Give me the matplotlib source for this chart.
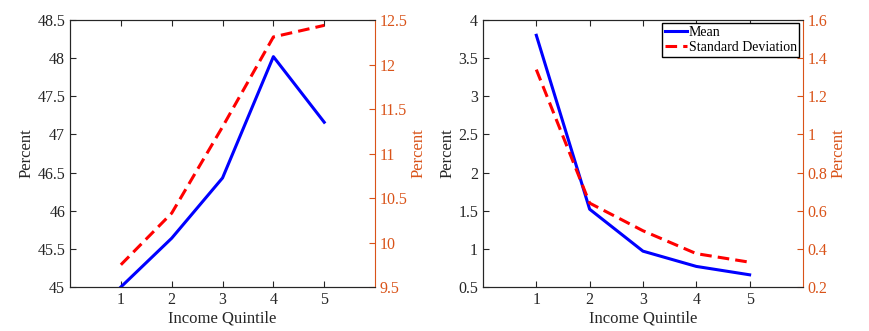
import matplotlib.pyplot as plt

plt.rcParams["font.family"] = ["Liberation Serif", "DejaVu Serif"]
plt.rcParams["font.size"] = 11

ORANGE = "#D95319"
TEXT = "#262626"

quintiles = [1, 2, 3, 4, 5]

# Left panel: mean (left axis) and standard deviation (right axis)
left_mean = [45.0, 45.64, 46.43, 48.02, 47.16]
left_sd = [9.75, 10.33, 11.30, 12.31, 12.44]

# Right panel
right_mean = [3.80, 1.52, 0.97, 0.77, 0.66]
right_sd = [1.34, 0.64, 0.495, 0.375, 0.33]

left_ticks = [45, 45.5, 46, 46.5, 47, 47.5, 48, 48.5]
left_sd_ticks = [9.5, 10, 10.5, 11, 11.5, 12, 12.5]
right_ticks = [0.5, 1, 1.5, 2, 2.5, 3, 3.5, 4]
right_sd_ticks = [0.2, 0.4, 0.6, 0.8, 1.0, 1.2, 1.4, 1.6]


def fmt(v):
    return ("%g" % v)


def draw_panel(fig, rect, mean, sd, yticks, sdticks, legend=False):
    ax = fig.add_axes(rect)
    ax2 = ax.twinx()

    l1, = ax.plot(quintiles, mean, color="#0000FF", lw=2.2, label="Mean")
    l2, = ax2.plot(quintiles, sd, color="#FF0000", lw=2.2, ls="--",
                   dashes=(3.8, 2.0), label="Standard Deviation")

    ax.set_xlim(0, 6)
    ax.set_xticks(quintiles)
    ax.set_ylim(yticks[0], yticks[-1])
    ax.set_yticks(yticks)
    ax.set_yticklabels([fmt(v) for v in yticks])
    ax2.set_ylim(sdticks[0], sdticks[-1])
    ax2.set_yticks(sdticks)
    ax2.set_yticklabels([fmt(v) for v in sdticks])

    ax.tick_params(direction="in", length=4, colors=TEXT, labelsize=11.5,
                   top=True, width=0.8)
    ax2.tick_params(direction="in", length=4, colors=ORANGE, labelsize=11.5,
                    width=0.8)
    for s in ["left", "top", "bottom"]:
        ax.spines[s].set_color(TEXT)
        ax2.spines[s].set_color(TEXT)
    ax2.spines["right"].set_color(ORANGE)
    ax.spines["right"].set_visible(False)

    ax.set_xlabel("Income Quintile", fontsize=12, color=TEXT, labelpad=2)
    ax.set_ylabel("Percent", fontsize=12, color=TEXT, labelpad=2)
    ax2.set_ylabel("Percent", fontsize=12, color=ORANGE, labelpad=2)

    if legend:
        leg = ax2.legend(handles=[l1, l2], loc="upper right", fontsize=10,
                         fancybox=False, framealpha=1, edgecolor="black",
                         handlelength=1.6, handletextpad=0.1,
                         borderpad=0.2, borderaxespad=0.25, labelspacing=0.15)
        leg.get_frame().set_linewidth(1.0)
    return ax, ax2


fig = plt.figure(figsize=(8.69, 3.31), dpi=100)
draw_panel(fig, [0.0806, 0.1329, 0.351, 0.8066],
           left_mean, left_sd, left_ticks, left_sd_ticks)
draw_panel(fig, [0.5558, 0.1329, 0.3682, 0.8066],
           right_mean, right_sd, right_ticks, right_sd_ticks, legend=True)

fig.savefig("out.png", dpi=100)
